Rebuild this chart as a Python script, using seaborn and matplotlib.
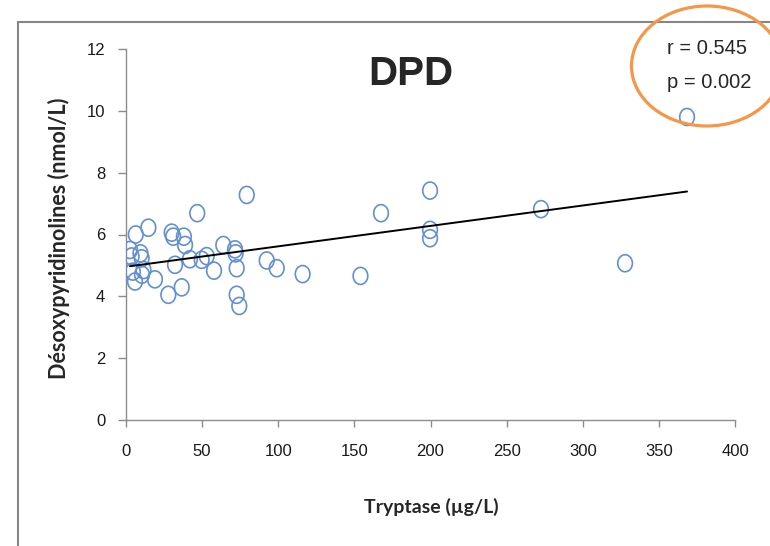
import numpy as np
import pandas as pd
import matplotlib
matplotlib.use("Agg")
import matplotlib.pyplot as plt
import seaborn as sns
from matplotlib.path import Path
from matplotlib.patches import Ellipse
from matplotlib.lines import Line2D

# ---- data ----
tryptase = [2.6, 3.7, 6.4, 4.5, 5.9, 9.5, 10.3, 10.5, 11.5, 14.7, 19.0, 27.8, 30.0, 31.0,
            32.2, 36.6, 38.0, 38.8, 42.0, 46.8, 49.7, 53.0, 57.8, 63.9, 71.6, 72.0, 72.7,
            72.7, 74.4, 79.3, 92.4, 99.0, 116.0, 154.0, 167.5, 199.7, 199.7, 199.7, 272.6,
            327.8, 368.5]
dpd = [5.50, 5.29, 6.00, 4.80, 4.48, 5.39, 5.23, 4.70, 4.85, 6.22, 4.55, 4.05, 6.06, 5.93,
       5.02, 4.29, 5.93, 5.66, 5.20, 6.69, 5.18, 5.30, 4.83, 5.66, 5.52, 5.39, 4.91,
       4.05, 3.69, 7.28, 5.16, 4.91, 4.72, 4.66, 6.69, 7.42, 6.15, 5.88, 6.82,
       5.07, 9.80]
x_ticks = [0, 50, 100, 150, 200, 250, 300, 350, 400]
y_ticks = [0, 2, 4, 6, 8, 10, 12]
title = "DPD"
x_label = "Tryptase (µg/L)"
y_label = "Désoxypyridinolines (nmol/L)"
stats_text = ["r = 0.545", "p = 0.002"]

df = pd.DataFrame({"x": tryptase, "y": dpd})

sns.set_style("white")
plt.rcParams["font.family"] = ["Liberation Sans", "DejaVu Sans"]

W, H = 770, 546
fig = plt.figure(figsize=(W / 100, H / 100), dpi=100)
ax = fig.add_axes([126 / W, 1 - 420 / H, (735 - 126) / W, (420 - 49) / H])

# elliptical open marker (slightly taller than wide)
t = np.linspace(0, 2 * np.pi, 60)
ell = Path(np.column_stack([0.43 * np.cos(t), 0.5 * np.sin(t)]), closed=True)

sns.scatterplot(data=df, x="x", y="y", ax=ax, marker=ell, s=150,
                facecolors="none", edgecolor="#6390D2", linewidth=1.2, zorder=3)
sns.regplot(data=df, x="x", y="y", ax=ax, scatter=False, ci=None, truncate=True,
            line_kws={"color": "black", "lw": 1.4, "zorder": 4})

ax.set_xlim(0, 400)
ax.set_ylim(0, 12)
ax.set_xticks(x_ticks)
ax.set_yticks(y_ticks)
ax.set_xlabel("")
ax.set_ylabel("")

for s in ["top", "right"]:
    ax.spines[s].set_visible(False)
for s in ["left", "bottom"]:
    ax.spines[s].set_color("#8C8C8C")
    ax.spines[s].set_linewidth(1.0)

ax.tick_params(axis="x", direction="out", length=5, width=1, color="#8C8C8C",
               pad=12, labelsize=12, labelcolor="#1a1a1a", bottom=True)
ax.tick_params(axis="y", direction="out", length=6, width=1, color="#8C8C8C",
               pad=9, labelsize=12, labelcolor="#1a1a1a", left=True)

# labels and title
fig.text(431 / W, 1 - 507 / H, x_label, ha="center", va="center",
         fontsize=14, fontweight="bold", family=["Lato", "DejaVu Sans"])
fig.text(59 / W, 1 - 238 / H, y_label, ha="center", va="center", rotation=90,
         fontsize=15.5, fontweight="bold", family=["Lato", "DejaVu Sans"])
fig.text(411 / W, 1 - 74 / H, title, ha="center", va="center",
         fontsize=29, fontweight="bold", family=["Liberation Sans", "DejaVu Sans"])

# r / p annotation
fig.text(667 / W, 1 - 48 / H, stats_text[0], ha="left", va="center", fontsize=14.5)
fig.text(667 / W, 1 - 82 / H, stats_text[1], ha="left", va="center", fontsize=14.5)

# orange highlight ellipse
fig.patches.append(Ellipse((707 / W, 1 - 66 / H), 151 / W, 120 / H,
                           transform=fig.transFigure, fill=False,
                           edgecolor="#F79646", lw=2.3, zorder=5))

# chart-area border (left and top visible)
fig.add_artist(Line2D([18 / W, 18 / W], [0, 1 - 22 / H], transform=fig.transFigure,
                      color="#868686", lw=1.5))
fig.add_artist(Line2D([18 / W, 1], [1 - 22 / H, 1 - 22 / H], transform=fig.transFigure,
                      color="#868686", lw=1.5))

fig.savefig("out.png", dpi=100)
